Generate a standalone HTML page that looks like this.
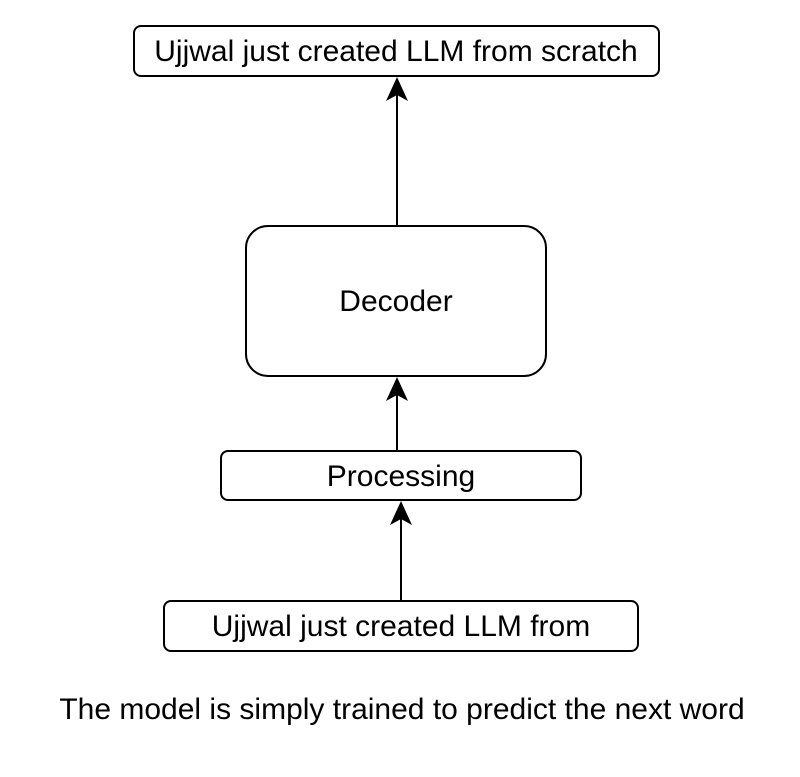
<!DOCTYPE html>
<html><head><style>
body{margin:0;background:#fff;}
svg text{font-family:"Liberation Sans",sans-serif;fill:#000;}
</style></head><body>
<svg width="800" height="772" xmlns="http://www.w3.org/2000/svg">
<g fill="none" stroke="#000" stroke-width="2">
<rect x="134" y="26" width="525" height="50" rx="7"/>
<rect x="246" y="226" width="300" height="150" rx="22"/>
<rect x="221" y="451" width="360" height="49" rx="7"/>
<rect x="164" y="601" width="474" height="50" rx="7"/>
<line x1="397" y1="226" x2="397" y2="92"/>
<line x1="397" y1="451" x2="397" y2="392"/>
<line x1="401" y1="601" x2="401" y2="516"/>
</g>
<g fill="#000">
<path d="M397 77 L408 101 L397 95 L386 101 Z"/>
<path d="M397 377 L408 401 L397 395 L386 401 Z"/>
<path d="M401 501 L412 525 L401 519 L390 525 Z"/>
</g>
<g font-size="30" text-anchor="middle">
<text x="396" y="61">Ujjwal just created LLM from scratch</text>
<text x="396" y="311">Decoder</text>
<text x="401" y="486">Processing</text>
<text x="401" y="636">Ujjwal just created LLM from</text>
<text x="402" y="719">The model is simply trained to predict the next word</text>
</g>
</svg>
</body></html>
